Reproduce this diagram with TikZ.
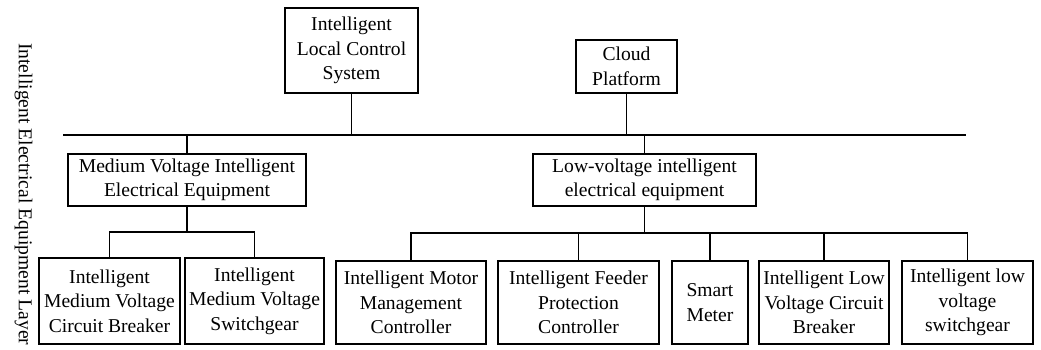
\documentclass[tikz,border=0pt]{standalone}
\usepackage{fontspec}
\setmainfont{Liberation Serif}
\begin{document}
\begin{tikzpicture}[x=1pt,y=-1pt,
  box/.style={draw, line width=1.9pt, inner sep=1pt, align=center,
    font=\fontsize{19.6}{24.5}\selectfont},
  wire/.style={line width=1.9pt},
  lbl/.style={inner sep=0pt, font=\fontsize{19.6}{24.5}\selectfont}]
\useasboundingbox (0,0) rectangle (1041,349);
% top level
\node[box, minimum width=133pt, minimum height=85pt] (ilcs) at (351.5,50.5) {Intelligent\\Local Control\\System};
\node[box, minimum width=101pt, minimum height=53pt] (cloud) at (626.5,66.5) {Cloud\\Platform};
% bus
\coordinate (busL) at (63,135);
\coordinate (busR) at (966,135);
\draw[wire] (busL) -- (busR);
% second level
\node[box, minimum width=238pt, minimum height=52pt] (mv) at (187,180) {Medium Voltage Intelligent\\Electrical Equipment};
\node[box, minimum width=223pt, minimum height=52pt] (lv) at (644.5,180) {Low-voltage intelligent\\electrical equipment};
% third level MV
\node[box, minimum width=141pt, minimum height=86pt] (mvcb) at (109.5,301) {Intelligent\\Medium Voltage\\Circuit Breaker};
\node[box, minimum width=139pt, minimum height=86pt] (mvsw) at (254.5,301) {Intelligent\\Medium Voltage\\Switchgear};
% third level LV
\node[box, minimum width=150pt, minimum height=83pt] (motor) at (411,302.5) {Intelligent Motor\\Management\\Controller};
\node[box, minimum width=161pt, minimum height=83pt] (feeder) at (578.5,302.5) {Intelligent Feeder\\Protection\\Controller};
\node[box, minimum width=76pt, minimum height=83pt] (meter) at (710,302.5) {Smart\\Meter};
\node[box, minimum width=130pt, minimum height=83pt] (lvcb) at (824,302.5) {Intelligent Low\\Voltage Circuit\\Breaker};
\node[box, minimum width=131pt, minimum height=83pt] (lvsw) at (967.5,302.5) {Intelligent low\\voltage\\switchgear};
% vertical layer label
\node[lbl, rotate=-90, anchor=base west] (layer) at (19,43) {Intelligent Electrical Equipment Layer};
% connectors to bus
\draw[wire] (ilcs.south) -- (ilcs.south |- busL);
\draw[wire] (cloud.south) -- (cloud.south |- busL);
\draw[wire] (mv.north) -- (mv.north |- busL);
\draw[wire] (lv.north) -- (lv.north |- busL);
% MV branch
\coordinate (mvj) at (0,232);
\draw[wire] (mv.south) -- (mv.south |- mvj);
\draw[wire] (mvcb.north) -- (mvcb.north |- mvj) -- (mvsw.north |- mvj) -- (mvsw.north);
% LV branch
\coordinate (lvj) at (0,233);
\draw[wire] (lv.south) -- (lv.south |- lvj);
\draw[wire] (motor.north) -- (motor.north |- lvj) -- (lvsw.north |- lvj) -- (lvsw.north);
\draw[wire] (feeder.north) -- (feeder.north |- lvj);
\draw[wire] (meter.north) -- (meter.north |- lvj);
\draw[wire] (lvcb.north) -- (lvcb.north |- lvj);
\end{tikzpicture}
\end{document}
